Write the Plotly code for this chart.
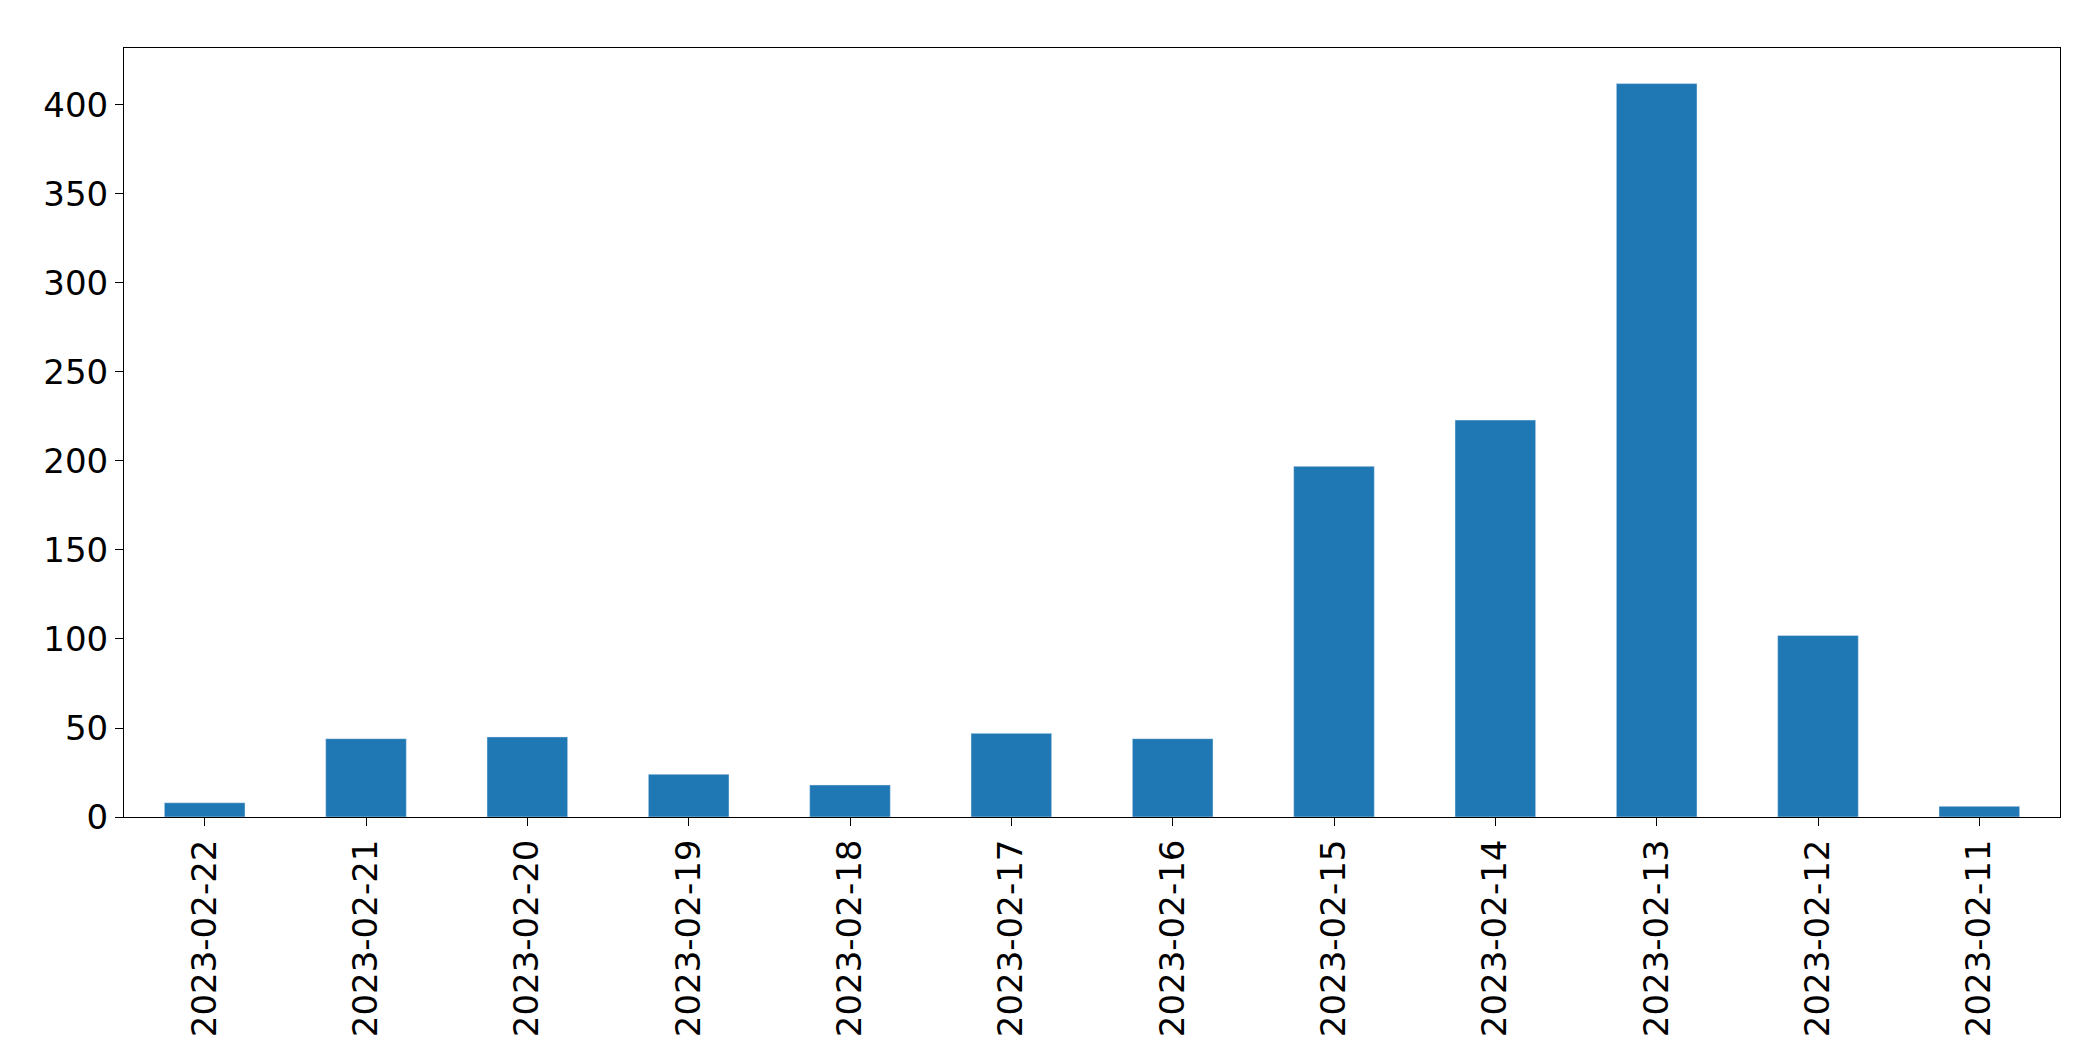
import plotly.graph_objects as go

dates = ["2023-02-22","2023-02-21","2023-02-20","2023-02-19","2023-02-18","2023-02-17",
         "2023-02-16","2023-02-15","2023-02-14","2023-02-13","2023-02-12","2023-02-11"]
counts = [8, 44, 45, 24, 18, 47, 44, 197, 223, 412, 102, 6]

fig = go.Figure(go.Bar(x=list(range(len(dates))), y=counts, width=0.5, marker_color="#1f77b4"))
fig.update_layout(
    width=2093, height=1061, plot_bgcolor="white", paper_bgcolor="white",
    margin=dict(l=116, r=41, t=40, b=252), showlegend=False,
    font=dict(family="DejaVu Sans", size=34, color="black"),
)
fig.update_xaxes(range=[-0.5, len(dates)-0.5], tickmode="array", tickvals=list(range(len(dates))),
                 ticktext=dates, tickangle=-90, showline=True, linecolor="black", mirror=True,
                 ticks="outside", ticklen=8, tickcolor="black", showgrid=False)
fig.update_yaxes(range=[0, 432], tickvals=[0,50,100,150,200,250,300,350,400], showline=True,
                 linecolor="black", mirror=True, ticks="outside", ticklen=8, tickcolor="black",
                 showgrid=False, zeroline=False)
fig.write_html("out.html")
